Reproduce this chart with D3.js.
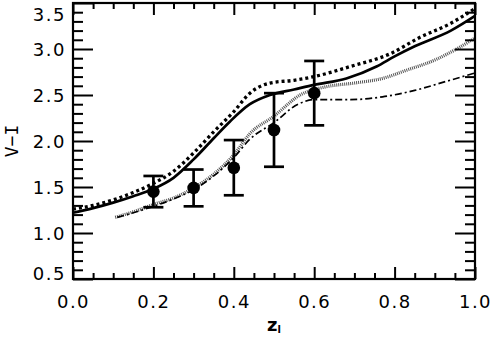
<!DOCTYPE html>
<html><head><meta charset="utf-8">
<script src="https://cdn.jsdelivr.net/npm/d3@7"></script>
<style>
html,body{margin:0;padding:0;background:#fff;}
svg{display:block;}
text{font-family:"DejaVu Sans",sans-serif;fill:#000;}
</style></head>
<body>
<svg id="chart" width="492" height="339"></svg>
<script>
// ---- data ----
const xTicks = [0.0, 0.2, 0.4, 0.6, 0.8, 1.0];
const yTicks = [0.5, 1.0, 1.5, 2.0, 2.5, 3.0, 3.5];
const xTickLabels = ["0.0", "0.2", "0.4", "0.6", "0.8", "1.0"];
const yTickLabels = ["0.5", "1.0", "1.5", "2.0", "2.5", "3.0", "3.5"];

// model curves: [z, V-I]
const solidZ = [0.0, 0.05, 0.10, 0.15, 0.20, 0.25, 0.30, 0.35, 0.39, 0.44, 0.49, 0.55, 0.60, 0.68, 0.755, 0.80, 0.85, 0.94, 1.0];
const solidV = [1.22, 1.27, 1.33, 1.40, 1.48, 1.60, 1.80, 2.03, 2.21, 2.40, 2.50, 2.56, 2.61, 2.68, 2.81, 2.92, 3.03, 3.20, 3.36];

const dottedZ = [0.0, 0.05, 0.10, 0.15, 0.20, 0.25, 0.30, 0.35, 0.40, 0.44, 0.49, 0.55, 0.60, 0.69, 0.79, 0.86, 0.94, 1.0];
const dottedV = [1.26, 1.30, 1.36, 1.44, 1.54, 1.67, 1.87, 2.10, 2.32, 2.52, 2.63, 2.66, 2.70, 2.81, 2.95, 3.12, 3.28, 3.44];

const grayZ = [0.105, 0.15, 0.20, 0.25, 0.30, 0.35, 0.40, 0.44, 0.50, 0.565, 0.63, 0.70, 0.77, 0.83, 0.90, 0.95, 1.0];
const grayV = [1.17, 1.23, 1.31, 1.38, 1.49, 1.64, 1.85, 2.08, 2.27, 2.50, 2.59, 2.63, 2.68, 2.77, 2.88, 2.99, 3.12];

const dashdotZ = [0.11, 0.15, 0.20, 0.25, 0.30, 0.35, 0.40, 0.44, 0.50, 0.56, 0.60, 0.69, 0.77, 0.85, 0.93, 1.0];
const dashdotV = [1.17, 1.22, 1.29, 1.37, 1.47, 1.62, 1.82, 2.02, 2.20, 2.40, 2.45, 2.45, 2.48, 2.55, 2.65, 2.74];

// observed points
const obsZ = [0.2, 0.3, 0.4, 0.5, 0.6];
const obsV = [1.45, 1.49, 1.71, 2.12, 2.52];
const obsErr = [0.17, 0.20, 0.30, 0.40, 0.35];

// ---- layout ----
const L = 73, R = 475, T = 3, B = 279;
const svg = d3.select("#chart");
const x = d3.scaleLinear().domain([0, 1]).range([L, R]);
const y = d3.scaleLinear().domain([0.5, 3.5]).range([B, T]);

// curves
const line = d3.line().x(d => x(d[0])).y(d => y(d[1])).curve(d3.curveMonotoneX);
const zip = (a, b) => a.map((v, i) => [v, b[i]]);

svg.append("path").datum(zip(grayZ, grayV)).attr("d", line)
  .attr("fill", "none").attr("stroke", "#555").attr("stroke-width", 3.2)
  .attr("stroke-dasharray", "1,1");
svg.append("path").datum(zip(dashdotZ, dashdotV)).attr("d", line)
  .attr("fill", "none").attr("stroke", "#000").attr("stroke-width", 1.7)
  .attr("stroke-dasharray", "7,3,2,3");
svg.append("path").datum(zip(solidZ, solidV)).attr("d", line)
  .attr("fill", "none").attr("stroke", "#000").attr("stroke-width", 2.7);
svg.append("path").datum(zip(dottedZ, dottedV)).attr("d", line)
  .attr("fill", "none").attr("stroke", "#000").attr("stroke-width", 3.3)
  .attr("stroke-dasharray", "3,3");

// error bars + points
const obs = obsZ.map((z, i) => ({z, v: obsV[i], e: obsErr[i]}));
const eb = svg.append("g").attr("stroke", "#000").attr("stroke-width", 2.7);
obs.forEach(d => {
  eb.append("line").attr("x1", x(d.z)).attr("x2", x(d.z))
    .attr("y1", y(d.v - d.e)).attr("y2", y(d.v + d.e));
  [d.v - d.e, d.v + d.e].forEach(v => {
    eb.append("line").attr("x1", x(d.z) - 10).attr("x2", x(d.z) + 10)
      .attr("y1", y(v)).attr("y2", y(v));
  });
});
svg.append("g").selectAll("circle").data(obs).join("circle")
  .attr("cx", d => x(d.z)).attr("cy", d => y(d.v)).attr("r", 6.3).attr("fill", "#000");

// axes
const xMinor = d3.range(0, 1.0001, 0.05).filter(v => Math.abs(v * 5 - Math.round(v * 5)) > 1e-6);
const yMinor = d3.range(0.5, 3.5001, 0.1).filter(v => Math.abs(v * 2 - Math.round(v * 2)) > 1e-6);

function styleAxis(g) {
  g.select(".domain").remove();
  g.selectAll(".tick line").attr("stroke", "#000").attr("stroke-width", 2);
  g.selectAll(".tick text").attr("font-size", 18).attr("letter-spacing", "1.5px")
    .style("font-family", '"DejaVu Sans", sans-serif');
}
// bottom
svg.append("g").attr("transform", `translate(0,${B})`)
  .call(d3.axisBottom(x).tickValues(xTicks).tickFormat((d, i) => xTickLabels[i]).tickSizeInner(-12).tickSizeOuter(0).tickPadding(16))
  .call(styleAxis);
svg.append("g").attr("transform", `translate(0,${B})`)
  .call(d3.axisBottom(x).tickValues(xMinor).tickFormat("").tickSizeInner(-6).tickSizeOuter(0))
  .call(styleAxis);
// top
svg.append("g").attr("transform", `translate(0,${T})`)
  .call(d3.axisTop(x).tickValues(xTicks).tickFormat("").tickSizeInner(-12).tickSizeOuter(0))
  .call(styleAxis);
svg.append("g").attr("transform", `translate(0,${T})`)
  .call(d3.axisTop(x).tickValues(xMinor).tickFormat("").tickSizeInner(-6).tickSizeOuter(0))
  .call(styleAxis);
// left
const yAx = svg.append("g").attr("transform", `translate(${L},0)`)
  .call(d3.axisLeft(y).tickValues(yTicks).tickFormat((d, i) => yTickLabels[i]).tickSizeInner(-20).tickSizeOuter(0).tickPadding(7))
  .call(styleAxis);
yAx.selectAll(".tick text").attr("dy", d => d === 3.5 ? "0.95em" : d === 0.5 ? "0.0em" : "0.36em");
svg.append("g").attr("transform", `translate(${L},0)`)
  .call(d3.axisLeft(y).tickValues(yMinor).tickFormat("").tickSizeInner(-10).tickSizeOuter(0))
  .call(styleAxis);
// right
svg.append("g").attr("transform", `translate(${R},0)`)
  .call(d3.axisRight(y).tickValues(yTicks).tickFormat("").tickSizeInner(-20).tickSizeOuter(0))
  .call(styleAxis);
svg.append("g").attr("transform", `translate(${R},0)`)
  .call(d3.axisRight(y).tickValues(yMinor).tickFormat("").tickSizeInner(-10).tickSizeOuter(0))
  .call(styleAxis);

// frame
svg.append("rect").attr("x", L).attr("y", T).attr("width", R - L).attr("height", B - T)
  .attr("fill", "none").attr("stroke", "#000").attr("stroke-width", 2.2);

// titles
const xt = svg.append("text").attr("x", (L + R) / 2).attr("y", 331)
  .attr("text-anchor", "middle").attr("font-size", 18).attr("font-weight", "bold");
xt.append("tspan").text("z");
xt.append("tspan").attr("font-size", 10).attr("dy", 2).text("l");

svg.append("text").attr("transform", `translate(18,${(T + B) / 2}) rotate(-90)`)
  .attr("text-anchor", "middle").attr("font-size", 18)
  .style("font-family", '"DejaVu Sans Mono", monospace').text("V\u2212I");
</script>
</body></html>
